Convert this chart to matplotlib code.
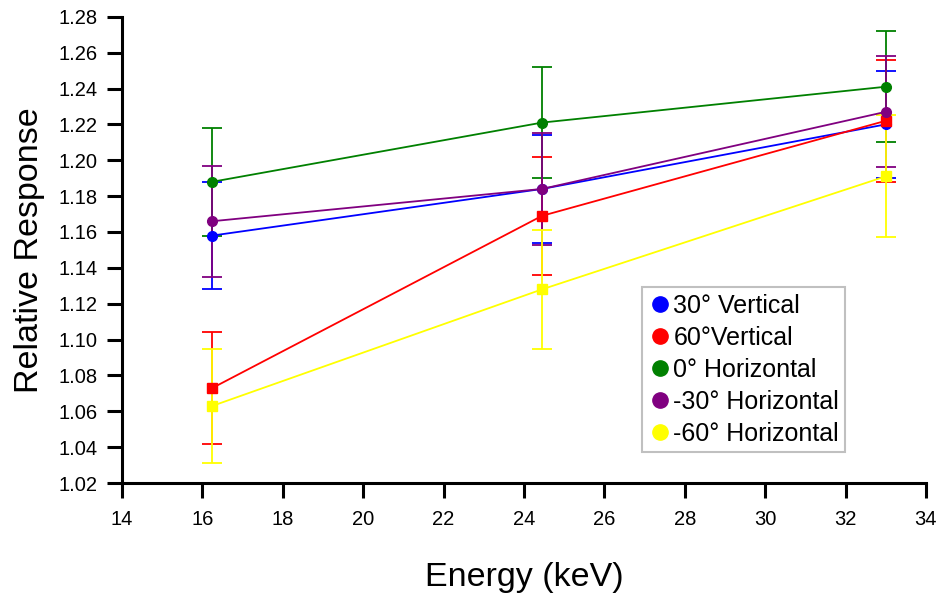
import matplotlib

matplotlib.use("Agg")

import matplotlib.pyplot as plt  # noqa: E402
from matplotlib.lines import Line2D  # noqa: E402

plt.rcParams["font.family"] = ["Liberation Sans", "DejaVu Sans"]

energy = [16.25, 24.45, 33.0]

labels = ["30° Vertical", "60°Vertical", "0° Horizontal", "-30° Horizontal", "-60° Horizontal"]
colors = ["#0000ff", "#ff0000", "#008000", "#800080", "#ffff00"]
markers = ["o", "s", "o", "o", "s"]

resp_30v = [1.158, 1.184, 1.220]
resp_60v = [1.073, 1.169, 1.222]
resp_0h = [1.188, 1.221, 1.241]
resp_m30h = [1.166, 1.184, 1.227]
resp_m60h = [1.063, 1.128, 1.191]

err_30v = [0.030, 0.030, 0.030]
err_60v = [0.031, 0.033, 0.034]
err_0h = [0.030, 0.031, 0.031]
err_m30h = [0.031, 0.031, 0.031]
err_m60h = [0.032, 0.033, 0.034]

series = [resp_30v, resp_60v, resp_0h, resp_m30h, resp_m60h]
errors = [err_30v, err_60v, err_0h, err_m30h, err_m60h]

fig = plt.figure(figsize=(9.41, 6.0), dpi=100)
ax = fig.add_axes([0.1296, 0.195, 0.8544, 0.777])

for vals, err, col, mk in zip(series, errors, colors, markers):
    ax.errorbar(energy, vals, yerr=err, color=col, marker=mk, markersize=7,
                linewidth=1.3, elinewidth=1.3, capsize=7, capthick=1.3)

ax.set_xlim(14, 34)
ax.set_ylim(1.02, 1.28)
ax.set_xticks(range(14, 35, 2))
ax.set_yticks([1.02 + 0.02 * i for i in range(14)])
ax.set_yticklabels([f"{1.02 + 0.02 * i:.2f}" for i in range(14)])
ax.tick_params(direction="out", length=10.5, width=2.2, labelsize=14.5)
ax.tick_params(axis="x", pad=9)
ax.tick_params(axis="y", pad=7)
for side in ("top", "right"):
    ax.spines[side].set_visible(False)
for side in ("left", "bottom"):
    ax.spines[side].set_linewidth(2.2)

ax.set_xlabel("Energy (keV)", fontsize=24.5, labelpad=24)
ax.set_ylabel("Relative Response", fontsize=24.5, labelpad=10)

handles = [Line2D([], [], linestyle="none", marker="o", markersize=11,
                  color=c) for c in colors]
leg = ax.legend(handles, labels, loc="lower left", bbox_to_anchor=(0.647, 0.067),
                fontsize=18, handletextpad=0.1, handlelength=0.9,
                borderpad=0.25, labelspacing=0.32, fancybox=False, framealpha=1,
                borderaxespad=0)
leg.get_frame().set_edgecolor("#c0c0c0")
leg.get_frame().set_linewidth(1.5)

fig.savefig("out.png", dpi=100)
